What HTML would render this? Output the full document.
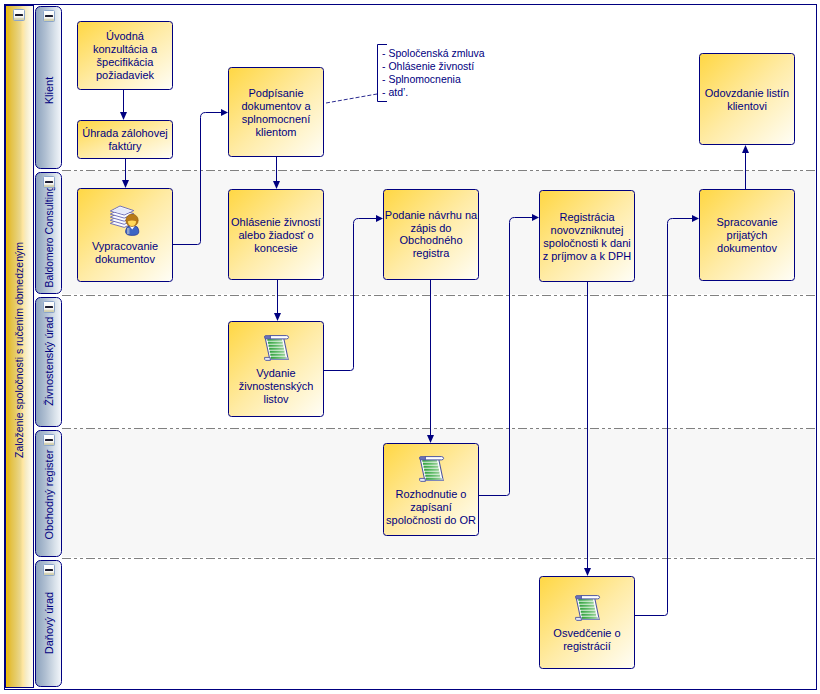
<!DOCTYPE html>
<html><head><meta charset="utf-8"><style>
html,body{margin:0;padding:0;background:#fff;width:820px;height:694px;overflow:hidden}
svg{display:block;font-family:"Liberation Sans",sans-serif}
</style></head><body>
<svg width="820" height="694" viewBox="0 0 820 694">
<defs>
<linearGradient id="gBox" x1="0" y1="0" x2="1" y2="1"><stop offset="0" stop-color="#FFD743"/><stop offset="0.5" stop-color="#FFEBA5"/><stop offset="1" stop-color="#FFFEF7"/></linearGradient>
<linearGradient id="gPool" gradientUnits="userSpaceOnUse" x1="6" y1="0" x2="33" y2="0"><stop offset="0" stop-color="#F2C000"/><stop offset="0.08" stop-color="#E4B828"/><stop offset="0.2" stop-color="#E4C248"/><stop offset="0.36" stop-color="#E6CC68"/><stop offset="0.52" stop-color="#EAD68A"/><stop offset="0.62" stop-color="#FFE6A0"/><stop offset="0.74" stop-color="#F6ECC6"/><stop offset="0.88" stop-color="#FCF6E0"/><stop offset="1" stop-color="#FFFCF0"/></linearGradient>
<linearGradient id="gLane" gradientUnits="userSpaceOnUse" x1="36" y1="0" x2="61" y2="0"><stop offset="0" stop-color="#8CA2BD"/><stop offset="0.4" stop-color="#B2C1D3"/><stop offset="0.75" stop-color="#D8E1EA"/><stop offset="1" stop-color="#F2F5FA"/></linearGradient>
<linearGradient id="gBtn" x1="0" y1="0" x2="0" y2="1"><stop offset="0" stop-color="#FFFFFF"/><stop offset="0.7" stop-color="#F6F6F4"/><stop offset="0.78" stop-color="#DCD6BC"/><stop offset="1" stop-color="#C8CCA4"/></linearGradient>
<linearGradient id="gLine" x1="0" y1="0" x2="1" y2="0"><stop offset="0" stop-color="#34A040"/><stop offset="0.45" stop-color="#58B862"/><stop offset="1" stop-color="#98D098"/></linearGradient>
</defs>
<rect x="4.5" y="4.5" width="812" height="685" fill="#FFFFFF" stroke="#000080" stroke-width="1"/>
<rect x="62" y="171" width="753" height="123" fill="#F7F7F7"/>
<rect x="62" y="429" width="753" height="128" fill="#F7F7F7"/>
<line x1="62" y1="170.5" x2="815" y2="170.5" stroke="#808080" stroke-width="1" stroke-dasharray="9 3 3 3 3 3"/>
<line x1="62" y1="295.5" x2="815" y2="295.5" stroke="#808080" stroke-width="1" stroke-dasharray="9 3 3 3 3 3"/>
<line x1="62" y1="428.5" x2="815" y2="428.5" stroke="#808080" stroke-width="1" stroke-dasharray="9 3 3 3 3 3"/>
<line x1="62" y1="558.5" x2="815" y2="558.5" stroke="#808080" stroke-width="1" stroke-dasharray="9 3 3 3 3 3"/>
<rect x="5.5" y="5.5" width="28" height="682" fill="url(#gPool)" stroke="#000080" stroke-width="1"/>
<text transform="translate(23,350) rotate(-90)" text-anchor="middle" font-size="10.5" fill="#000080">Založenie spoločnosti s ručením obmedzeným</text>
<rect x="13.5" y="9.5" width="11" height="11" rx="1" fill="url(#gBtn)" stroke="#8CA6CC" stroke-width="1"/>
<rect x="15" y="14" width="8" height="2" rx="0.6" fill="#1C1C30"/>
<rect x="35.5" y="6.5" width="26" height="162" rx="5" ry="5" fill="url(#gLane)" stroke="#000080" stroke-width="1"/>
<text transform="translate(53,90.5) rotate(-90)" text-anchor="middle" font-size="11" fill="#000080">Klient</text>
<rect x="43.5" y="10.5" width="11" height="11" rx="1" fill="url(#gBtn)" stroke="#8CA6CC" stroke-width="1"/>
<rect x="45" y="15" width="8" height="2" rx="0.6" fill="#1C1C30"/>
<rect x="35.5" y="172.5" width="26" height="121" rx="5" ry="5" fill="url(#gLane)" stroke="#000080" stroke-width="1"/>
<text transform="translate(53,236.5) rotate(-90)" text-anchor="middle" font-size="11" fill="#000080" textLength="102" lengthAdjust="spacingAndGlyphs">Baldomero Consulting</text>
<rect x="43.5" y="176.5" width="11" height="11" rx="1" fill="url(#gBtn)" stroke="#8CA6CC" stroke-width="1"/>
<rect x="45" y="181" width="8" height="2" rx="0.6" fill="#1C1C30"/>
<rect x="35.5" y="297.5" width="26" height="129" rx="5" ry="5" fill="url(#gLane)" stroke="#000080" stroke-width="1"/>
<text transform="translate(53,361.2) rotate(-90)" text-anchor="middle" font-size="11" fill="#000080">Živnostenský úrad</text>
<rect x="43.5" y="301.5" width="11" height="11" rx="1" fill="url(#gBtn)" stroke="#8CA6CC" stroke-width="1"/>
<rect x="45" y="306" width="8" height="2" rx="0.6" fill="#1C1C30"/>
<rect x="35.5" y="430.5" width="26" height="126" rx="5" ry="5" fill="url(#gLane)" stroke="#000080" stroke-width="1"/>
<text transform="translate(53,494.5) rotate(-90)" text-anchor="middle" font-size="11" fill="#000080">Obchodný register</text>
<rect x="43.5" y="434.5" width="11" height="11" rx="1" fill="url(#gBtn)" stroke="#8CA6CC" stroke-width="1"/>
<rect x="45" y="439" width="8" height="2" rx="0.6" fill="#1C1C30"/>
<rect x="35.5" y="560.5" width="26" height="126" rx="5" ry="5" fill="url(#gLane)" stroke="#000080" stroke-width="1"/>
<text transform="translate(53,623) rotate(-90)" text-anchor="middle" font-size="11" fill="#000080">Daňový úrad</text>
<rect x="43.5" y="564.5" width="11" height="11" rx="1" fill="url(#gBtn)" stroke="#8CA6CC" stroke-width="1"/>
<rect x="45" y="569" width="8" height="2" rx="0.6" fill="#1C1C30"/>
<rect x="77.5" y="21.5" width="95" height="68" rx="3" ry="3" fill="url(#gBox)" stroke="#000080" stroke-width="1"/>
<text x="125.0" y="40" text-anchor="middle" font-size="11" fill="#000080">Úvodná</text>
<text x="125.0" y="53" text-anchor="middle" font-size="11" fill="#000080">konzultácia a</text>
<text x="125.0" y="66" text-anchor="middle" font-size="11" fill="#000080">špecifikácia</text>
<text x="125.0" y="79" text-anchor="middle" font-size="11" fill="#000080">požiadaviek</text>
<rect x="77.5" y="120.5" width="95" height="38" rx="3" ry="3" fill="url(#gBox)" stroke="#000080" stroke-width="1"/>
<text x="125.0" y="137" text-anchor="middle" font-size="11" fill="#000080">Úhrada zálohovej</text>
<text x="125.0" y="150" text-anchor="middle" font-size="11" fill="#000080">faktúry</text>
<rect x="77.5" y="188.5" width="95" height="93" rx="3" ry="3" fill="url(#gBox)" stroke="#000080" stroke-width="1"/>
<text x="125.0" y="250" text-anchor="middle" font-size="11" fill="#000080">Vypracovanie</text>
<text x="125.0" y="263" text-anchor="middle" font-size="11" fill="#000080">dokumentov</text>
<rect x="228.5" y="67.5" width="95" height="89" rx="3" ry="3" fill="url(#gBox)" stroke="#000080" stroke-width="1"/>
<text x="276.0" y="97" text-anchor="middle" font-size="11" fill="#000080">Podpísanie</text>
<text x="276.0" y="110" text-anchor="middle" font-size="11" fill="#000080">dokumentov a</text>
<text x="276.0" y="123" text-anchor="middle" font-size="11" fill="#000080">splnomocnení</text>
<text x="276.0" y="136" text-anchor="middle" font-size="11" fill="#000080">klientom</text>
<rect x="228.5" y="189.5" width="95" height="90" rx="3" ry="3" fill="url(#gBox)" stroke="#000080" stroke-width="1"/>
<text x="276.0" y="226" text-anchor="middle" font-size="11" fill="#000080">Ohlásenie živností</text>
<text x="276.0" y="239" text-anchor="middle" font-size="11" fill="#000080">alebo žiadosť o</text>
<text x="276.0" y="252" text-anchor="middle" font-size="11" fill="#000080">koncesie</text>
<rect x="228.5" y="321.5" width="95" height="95" rx="3" ry="3" fill="url(#gBox)" stroke="#000080" stroke-width="1"/>
<text x="276.0" y="377" text-anchor="middle" font-size="11" fill="#000080">Vydanie</text>
<text x="276.0" y="390" text-anchor="middle" font-size="11" fill="#000080">živnostenských</text>
<text x="276.0" y="403" text-anchor="middle" font-size="11" fill="#000080">listov</text>
<rect x="383.5" y="189.5" width="95" height="90" rx="3" ry="3" fill="url(#gBox)" stroke="#000080" stroke-width="1"/>
<text x="431.0" y="219" text-anchor="middle" font-size="11" fill="#000080">Podanie návrhu na</text>
<text x="431.0" y="232" text-anchor="middle" font-size="11" fill="#000080">zápis do</text>
<text x="431.0" y="244" text-anchor="middle" font-size="11" fill="#000080">Obchodného</text>
<text x="431.0" y="257" text-anchor="middle" font-size="11" fill="#000080">registra</text>
<rect x="383.5" y="443.5" width="95" height="92" rx="3" ry="3" fill="url(#gBox)" stroke="#000080" stroke-width="1"/>
<text x="431.0" y="498" text-anchor="middle" font-size="11" fill="#000080">Rozhodnutie o</text>
<text x="431.0" y="511" text-anchor="middle" font-size="11" fill="#000080">zapísaní</text>
<text x="431.0" y="524" text-anchor="middle" font-size="11" fill="#000080">spoločnosti do OR</text>
<rect x="539.5" y="190.5" width="95" height="91" rx="3" ry="3" fill="url(#gBox)" stroke="#000080" stroke-width="1"/>
<text x="587.0" y="221" text-anchor="middle" font-size="11" fill="#000080">Registrácia</text>
<text x="587.0" y="234" text-anchor="middle" font-size="11" fill="#000080">novovzniknutej</text>
<text x="587.0" y="247" text-anchor="middle" font-size="11" fill="#000080">spoločnosti k dani</text>
<text x="587.0" y="260" text-anchor="middle" font-size="11" fill="#000080">z príjmov a k DPH</text>
<rect x="539.5" y="576.5" width="95" height="92" rx="3" ry="3" fill="url(#gBox)" stroke="#000080" stroke-width="1"/>
<text x="587.0" y="637" text-anchor="middle" font-size="11" fill="#000080">Osvedčenie o</text>
<text x="587.0" y="650" text-anchor="middle" font-size="11" fill="#000080">registrácií</text>
<rect x="699.5" y="53.5" width="95" height="91" rx="3" ry="3" fill="url(#gBox)" stroke="#000080" stroke-width="1"/>
<text x="747.0" y="97" text-anchor="middle" font-size="11" fill="#000080">Odovzdanie listín</text>
<text x="747.0" y="110" text-anchor="middle" font-size="11" fill="#000080">klientovi</text>
<rect x="699.5" y="189.5" width="95" height="91" rx="3" ry="3" fill="url(#gBox)" stroke="#000080" stroke-width="1"/>
<text x="747.0" y="226" text-anchor="middle" font-size="11" fill="#000080">Spracovanie</text>
<text x="747.0" y="239" text-anchor="middle" font-size="11" fill="#000080">prijatých</text>
<text x="747.0" y="252" text-anchor="middle" font-size="11" fill="#000080">dokumentov</text>
<line x1="123.5" y1="90" x2="123.5" y2="113" stroke="#000080" stroke-width="1"/>
<path d="M120,112 L127,112 L123.5,120 Z" fill="#000080"/>
<line x1="125.5" y1="159" x2="125.5" y2="182" stroke="#000080" stroke-width="1"/>
<path d="M122,180 L129,180 L125.5,188 Z" fill="#000080"/>
<line x1="276.5" y1="157" x2="276.5" y2="183" stroke="#000080" stroke-width="1"/>
<path d="M273,181 L280,181 L276.5,189 Z" fill="#000080"/>
<line x1="277.5" y1="280" x2="277.5" y2="315" stroke="#000080" stroke-width="1"/>
<path d="M274,313 L281,313 L277.5,321 Z" fill="#000080"/>
<line x1="430.5" y1="280" x2="430.5" y2="437" stroke="#000080" stroke-width="1"/>
<path d="M427,435 L434,435 L430.5,443 Z" fill="#000080"/>
<line x1="587.5" y1="282" x2="587.5" y2="570" stroke="#000080" stroke-width="1"/>
<path d="M584,568 L591,568 L587.5,576 Z" fill="#000080"/>
<line x1="745.5" y1="151" x2="745.5" y2="189" stroke="#000080" stroke-width="1"/>
<path d="M742,153 L749,153 L745.5,145 Z" fill="#000080"/>
<path d="M173,244.5 L197.5,244.5 Q200.5,244.5 200.5,241.5 L200.5,117.5 Q200.5,112.5 205.5,112.5 L222,112.5" fill="none" stroke="#000080" stroke-width="1"/>
<path d="M221,109 L221,116 L228,112.5 Z" fill="#000080"/>
<path d="M324,370.5 L350.5,370.5 Q353.5,370.5 353.5,367.5 L353.5,223.5 Q353.5,218.5 358.5,218.5 L377,218.5" fill="none" stroke="#000080" stroke-width="1"/>
<path d="M376,215 L376,222 L383,218.5 Z" fill="#000080"/>
<path d="M479,495.5 L506.5,495.5 Q509.5,495.5 509.5,492.5 L509.5,222.5 Q509.5,217.5 514.5,217.5 L533,217.5" fill="none" stroke="#000080" stroke-width="1"/>
<path d="M532,214 L532,221 L539,217.5 Z" fill="#000080"/>
<path d="M635,615.5 L664.5,615.5 Q667.5,615.5 667.5,612.5 L667.5,223.5 Q667.5,218.5 672.5,218.5 L693,218.5" fill="none" stroke="#000080" stroke-width="1"/>
<path d="M692,215 L692,222 L699,218.5 Z" fill="#000080"/>
<line x1="326" y1="103" x2="377" y2="94" stroke="#2A2A90" stroke-width="1" stroke-dasharray="4 2"/>
<path d="M387,44.5 L377.5,44.5 L377.5,101.5 L387,101.5" fill="none" stroke="#000080" stroke-width="1"/>
<text x="382" y="57" font-size="10.5" fill="#000080">- Spoločenská zmluva</text>
<text x="382" y="70" font-size="10.5" fill="#000080">- Ohlásenie živností</text>
<text x="382" y="83" font-size="10.5" fill="#000080">- Splnomocnenia</text>
<text x="382" y="96" font-size="10.5" fill="#000080">- atd’.</text>
<path d="M110.3,223.4 L120,218.4 L133.8,223.0 L124.2,227.4 Z" fill="#FAFBFF" stroke="#6464B4" stroke-width="0.9" stroke-linejoin="round"/>
<path d="M110.3,220.3 L120,215.3 L133.8,219.9 L124.2,224.3 Z" fill="#FAFBFF" stroke="#6464B4" stroke-width="0.9" stroke-linejoin="round"/>
<path d="M110.3,217.2 L120,212.2 L133.8,216.79999999999998 L124.2,221.2 Z" fill="#FAFBFF" stroke="#6464B4" stroke-width="0.9" stroke-linejoin="round"/>
<path d="M110.3,214.1 L120,209.1 L133.8,213.7 L124.2,218.1 Z" fill="#FAFBFF" stroke="#6464B4" stroke-width="0.9" stroke-linejoin="round"/>
<path d="M110.3,211.0 L120,206.0 L133.8,210.6 L124.2,215.0 Z" fill="#FAFBFF" stroke="#6464B4" stroke-width="0.9" stroke-linejoin="round"/>
<path d="M112,211 L120,207.2 L132,211 L124,214 Z" fill="#E6EAFA"/>
<path d="M125.6,232 L125.8,230 Q126.5,226.2 130,225.8 L134.5,225.8 Q138.2,226.2 138.6,230 L138.8,232 Q138.6,235.4 132.2,235.4 Q125.8,235.4 125.6,232 Z" fill="#3C64C4" stroke="#2A3C98" stroke-width="0.8"/>
<path d="M129.5,226 L134.8,226 L132.2,229.6 Z" fill="#FFFFFF"/>
<path d="M127,228 L129.5,228 L129.5,234 L127,234 Z" fill="#A8B4CC" opacity="0.8"/>
<circle cx="132" cy="220.3" r="6.2" fill="#B87A18" stroke="#8E5A0C" stroke-width="0.6"/>
<path d="M127.9,221.2 Q132,219.6 136.1,221.2 Q136,225.8 132,226 Q128,225.8 127.9,221.2 Z" fill="#FFD858"/>
<g transform="translate(264,335)">
<path d="M1,2 L19.5,2 L24.2,24.5 L5.8,24.5 Z" fill="#FFFFFF" stroke="#4E56A0" stroke-width="1.1" stroke-linejoin="round"/>
<path d="M5.4,22.2 L23.7,22.2 L24.2,24.6 L5.8,24.6 Z" fill="#AEB6D4"/>
<rect x="3.32" y="3.60" width="14.8" height="2.2" fill="url(#gLine)"/>
<rect x="3.92" y="6.60" width="14.8" height="2.2" fill="url(#gLine)"/>
<rect x="4.52" y="9.60" width="14.8" height="2.2" fill="url(#gLine)"/>
<rect x="5.12" y="12.60" width="14.8" height="2.2" fill="url(#gLine)"/>
<rect x="5.72" y="15.60" width="14.8" height="2.2" fill="url(#gLine)"/>
<rect x="6.32" y="18.60" width="14.8" height="2.2" fill="url(#gLine)"/>
<rect x="6.92" y="21.60" width="14.8" height="2.2" fill="url(#gLine)"/>
<path d="M6,0.6 L22.6,0.6 Q24.6,0.8 24.6,2.4 Q24.4,3.8 22.6,3.9 L6,3.9 Z" fill="#FFFFFF" stroke="#4E56A0" stroke-width="1"/>
<path d="M0.6,1.2 Q0.8,0.6 2,0.6 L6.4,0.6 L6.4,3.9 L1.4,3.9 Q0.5,3 0.6,1.2 Z" fill="#6A72B8" stroke="#4E56A0" stroke-width="0.8"/>
<path d="M0.6,22.4 L6,22.4 L6.4,25.4 L1.6,25.4 Q0.2,24.8 0.6,22.4 Z" fill="#E4E8F6" stroke="#4E56A0" stroke-width="0.9"/>
</g>
<g transform="translate(419,456)">
<path d="M1,2 L19.5,2 L24.2,24.5 L5.8,24.5 Z" fill="#FFFFFF" stroke="#4E56A0" stroke-width="1.1" stroke-linejoin="round"/>
<path d="M5.4,22.2 L23.7,22.2 L24.2,24.6 L5.8,24.6 Z" fill="#AEB6D4"/>
<rect x="3.32" y="3.60" width="14.8" height="2.2" fill="url(#gLine)"/>
<rect x="3.92" y="6.60" width="14.8" height="2.2" fill="url(#gLine)"/>
<rect x="4.52" y="9.60" width="14.8" height="2.2" fill="url(#gLine)"/>
<rect x="5.12" y="12.60" width="14.8" height="2.2" fill="url(#gLine)"/>
<rect x="5.72" y="15.60" width="14.8" height="2.2" fill="url(#gLine)"/>
<rect x="6.32" y="18.60" width="14.8" height="2.2" fill="url(#gLine)"/>
<rect x="6.92" y="21.60" width="14.8" height="2.2" fill="url(#gLine)"/>
<path d="M6,0.6 L22.6,0.6 Q24.6,0.8 24.6,2.4 Q24.4,3.8 22.6,3.9 L6,3.9 Z" fill="#FFFFFF" stroke="#4E56A0" stroke-width="1"/>
<path d="M0.6,1.2 Q0.8,0.6 2,0.6 L6.4,0.6 L6.4,3.9 L1.4,3.9 Q0.5,3 0.6,1.2 Z" fill="#6A72B8" stroke="#4E56A0" stroke-width="0.8"/>
<path d="M0.6,22.4 L6,22.4 L6.4,25.4 L1.6,25.4 Q0.2,24.8 0.6,22.4 Z" fill="#E4E8F6" stroke="#4E56A0" stroke-width="0.9"/>
</g>
<g transform="translate(575,595)">
<path d="M1,2 L19.5,2 L24.2,24.5 L5.8,24.5 Z" fill="#FFFFFF" stroke="#4E56A0" stroke-width="1.1" stroke-linejoin="round"/>
<path d="M5.4,22.2 L23.7,22.2 L24.2,24.6 L5.8,24.6 Z" fill="#AEB6D4"/>
<rect x="3.32" y="3.60" width="14.8" height="2.2" fill="url(#gLine)"/>
<rect x="3.92" y="6.60" width="14.8" height="2.2" fill="url(#gLine)"/>
<rect x="4.52" y="9.60" width="14.8" height="2.2" fill="url(#gLine)"/>
<rect x="5.12" y="12.60" width="14.8" height="2.2" fill="url(#gLine)"/>
<rect x="5.72" y="15.60" width="14.8" height="2.2" fill="url(#gLine)"/>
<rect x="6.32" y="18.60" width="14.8" height="2.2" fill="url(#gLine)"/>
<rect x="6.92" y="21.60" width="14.8" height="2.2" fill="url(#gLine)"/>
<path d="M6,0.6 L22.6,0.6 Q24.6,0.8 24.6,2.4 Q24.4,3.8 22.6,3.9 L6,3.9 Z" fill="#FFFFFF" stroke="#4E56A0" stroke-width="1"/>
<path d="M0.6,1.2 Q0.8,0.6 2,0.6 L6.4,0.6 L6.4,3.9 L1.4,3.9 Q0.5,3 0.6,1.2 Z" fill="#6A72B8" stroke="#4E56A0" stroke-width="0.8"/>
<path d="M0.6,22.4 L6,22.4 L6.4,25.4 L1.6,25.4 Q0.2,24.8 0.6,22.4 Z" fill="#E4E8F6" stroke="#4E56A0" stroke-width="0.9"/>
</g>
</svg>
</body></html>
